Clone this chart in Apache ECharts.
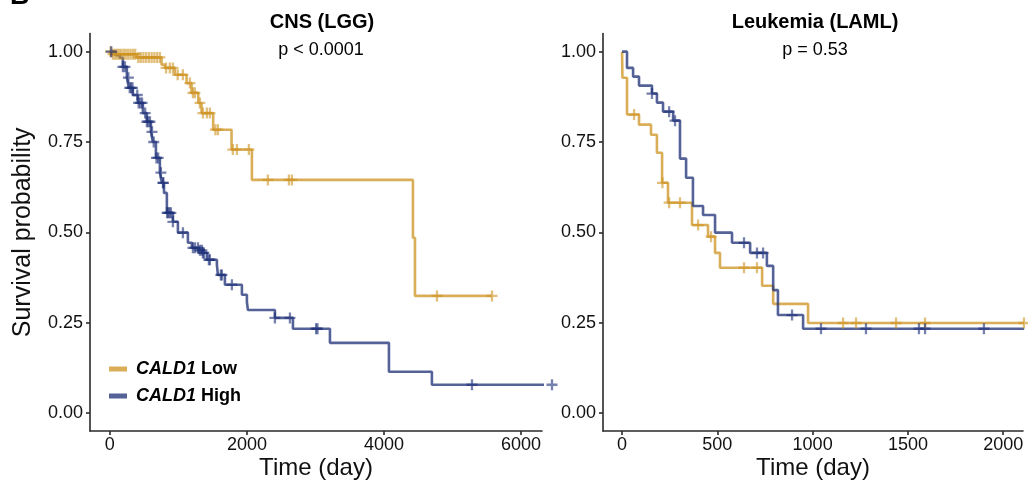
<!DOCTYPE html>
<html>
<head>
<meta charset="utf-8">
<script src="https://cdn.jsdelivr.net/npm/echarts@6/dist/echarts.min.js"></script>
<style>
  html, body { margin: 0; padding: 0; background: #fff; }
  #chart { width: 1028px; height: 481px; }
</style>
</head>
<body>
<div id="chart"></div>
<script>
// ---- CNS (LGG): Kaplan–Meier steps (event day, survival after the event) ----
const lggLowTime  = [0, 24, 390, 754, 803, 949, 1119, 1192, 1290, 1338, 1508, 1776, 2073, 4423, 4453, 5577];
const lggLowSurv  = [1, 0.993, 0.984, 0.964, 0.955, 0.936, 0.913, 0.886, 0.858, 0.830, 0.784, 0.729, 0.645, 0.485, 0.324, 0.324];
const lggLowCensor = [10, 45, 75, 105, 135, 165, 200, 230, 265, 300, 335, 370, 415, 450, 490, 530, 570, 610,
  650, 690, 730, 820, 875, 920, 990, 1065, 1168, 1212, 1240, 1314, 1358, 1416, 1460, 1540, 1577, 1795, 1854,
  2029, 2306, 2613, 2657, 4774, 5577];

const lggHighTime = [0, 90, 146, 190, 248, 277, 336, 409, 482, 540, 599, 628, 672, 730, 759, 790, 832, 920, 993,
  1139, 1197, 1300, 1358, 1416, 1562, 1577, 1679, 1927, 2000, 2015, 2409, 2672, 3212, 4073, 4700, 6453];
const lggHighSurv = [1, 0.99, 0.983, 0.958, 0.928, 0.90, 0.88, 0.858, 0.83, 0.806, 0.778, 0.75, 0.706, 0.665,
  0.637, 0.609, 0.554, 0.529, 0.499, 0.471, 0.457, 0.45, 0.443, 0.424, 0.41, 0.382, 0.355, 0.327, 0.307, 0.285,
  0.263, 0.233, 0.194, 0.114, 0.078, 0.078];
const lggHighCensor = [20, 190, 220, 270, 290, 310, 330, 400, 420, 445, 470, 515, 540, 560, 585, 615, 640, 680,
  705, 745, 775, 780, 835, 850, 870, 890, 920, 1066, 1212, 1241, 1285, 1314, 1343, 1358, 1372, 1445, 1460, 1620,
  1635, 1781, 2409, 2628, 3010, 3030, 5285, 6453];

// ---- Leukemia (LAML) ----
const lamlLowTime  = [0, 2, 26, 89, 152, 183, 210, 241, 367, 451, 488, 514, 735, 793, 976, 2109];
const lamlLowSurv  = [1, 0.928, 0.826, 0.798, 0.77, 0.72, 0.637, 0.582, 0.52, 0.488, 0.443, 0.402, 0.352, 0.302, 0.249, 0.249];
const lamlLowCensor = [63, 212, 247, 304, 399, 467, 640, 708, 1160, 1228, 1438, 1590, 2109];

const lamlHighTime = [0, 26, 58, 89, 157, 183, 215, 268, 304, 336, 372, 425, 488, 577, 672, 760, 793, 818, 950, 2110];
const lamlHighSurv = [1, 0.955, 0.931, 0.906, 0.884, 0.859, 0.834, 0.809, 0.704, 0.651, 0.573, 0.548, 0.499,
  0.471, 0.443, 0.407, 0.34, 0.271, 0.233, 0.233];
const lamlHighCensor = [157, 247, 278, 640, 708, 740, 892, 1044, 1280, 1558, 1590, 1899];

// axis ticks
const yTicks = [0, 0.25, 0.5, 0.75, 1];
const lggDayTicks = [0, 2000, 4000, 6000];
const lamlDayTicks = [0, 500, 1000, 1500, 2000];

const groupNames = ['CALD1 Low', 'CALD1 High'];
const lowColor = 'rgba(206,148,36,0.76)';
const highColor = 'rgba(30,48,120,0.76)';
const FONT = '"Liberation Sans", Arial, Helvetica, sans-serif';
// filled "+" used for censored observations
const PLUS = 'path://M4.75,0H7.25V4.75H12V7.25H7.25V12H4.75V7.25H0V4.75H4.75Z';

function stepData(times, surv) {
  return times.map((t, i) => [t, surv[i]]);
}
// survival value at a censoring day
function survAt(times, surv, day) {
  let s = surv[0];
  for (let i = 0; i < times.length; i++) {
    if (times[i] <= day) s = surv[i]; else break;
  }
  return s;
}
function censorData(times, surv, days) {
  return days.map(d => [d, survAt(times, surv, d)]);
}

function curve(name, idx, times, surv, color) {
  return {
    name: name, type: 'line', step: 'end', xAxisIndex: idx, yAxisIndex: idx,
    data: stepData(times, surv), showSymbol: false, symbol: 'none', clip: false,
    color: color, lineStyle: { color: color, width: 2.6 }, animation: false, z: 2
  };
}
function marks(name, idx, times, surv, days, color) {
  return {
    name: name + ' censored', type: 'scatter', xAxisIndex: idx, yAxisIndex: idx,
    data: censorData(times, surv, days), symbol: PLUS, symbolSize: 11, clip: false,
    itemStyle: { color: color }, animation: false, z: 3, silent: true
  };
}

const axisLineStyle = { color: '#2a2a2a', width: 1.6 };
function xAxis(idx, min, max, ticks, withName) {
  return {
    type: 'value', gridIndex: idx, min: min, max: max,
    axisLine: { show: true, onZero: false, lineStyle: axisLineStyle },
    axisTick: { show: true, length: 4, lineStyle: axisLineStyle, customValues: ticks },
    axisLabel: { customValues: ticks, fontSize: 18, color: '#111', margin: 5, fontFamily: FONT,
      formatter: v => String(v) },
    splitLine: { show: false },
    name: withName ? 'Time (day)' : '', nameLocation: 'middle', nameGap: 25, nameMoveOverlap: false,
    nameTextStyle: { fontSize: 24, color: '#111', fontFamily: FONT }
  };
}
function yAxis(idx, withName) {
  return {
    type: 'value', gridIndex: idx, min: -0.05, max: 1.05,
    axisLine: { show: true, onZero: false, lineStyle: axisLineStyle },
    axisTick: { show: true, length: 4, lineStyle: axisLineStyle, customValues: yTicks },
    axisLabel: { customValues: yTicks, fontSize: 18, color: '#111', margin: 7, fontFamily: FONT,
      formatter: v => v.toFixed(2) },
    splitLine: { show: false },
    name: withName ? 'Survival probability' : '', nameLocation: 'middle', nameGap: 54, nameRotate: 90,
    nameMoveOverlap: false,
    nameTextStyle: { fontSize: 25, color: '#111', fontFamily: FONT }
  };
}

const chart = echarts.init(document.getElementById('chart'), null, { renderer: 'canvas' });
chart.setOption({
  backgroundColor: '#fff',
  animation: false,
  textStyle: { fontFamily: FONT },
  title: [
    { text: 'B', left: 10, top: -17, padding: 0, textStyle: { fontSize: 27, fontWeight: 'bold', color: '#000', fontFamily: FONT } },
    { text: 'CNS (LGG)', left: 322, top: 12, padding: 0, textAlign: 'center',
      textStyle: { fontSize: 20, fontWeight: 'bold', color: '#000', fontFamily: FONT } },
    { text: 'p < 0.0001', left: 321, top: 41, padding: 0, textAlign: 'center',
      textStyle: { fontSize: 18, fontWeight: 'normal', color: '#000', fontFamily: FONT } },
    { text: 'Leukemia (LAML)', left: 815, top: 12, padding: 0, textAlign: 'center',
      textStyle: { fontSize: 20, fontWeight: 'bold', color: '#000', fontFamily: FONT } },
    { text: 'p = 0.53', left: 815, top: 41, padding: 0, textAlign: 'center',
      textStyle: { fontSize: 18, fontWeight: 'normal', color: '#000', fontFamily: FONT } }
  ],
  legend: {
    data: groupNames, orient: 'vertical', left: 109, top: 360, padding: 0,
    itemWidth: 18, itemHeight: 5, itemGap: 9, icon: 'rect',
    selectedMode: false,
    formatter: name => {
      const parts = name.split(' ');
      return '{g|' + parts[0] + '}{l| ' + parts[1] + '}';
    },
    textStyle: {
      fontSize: 18, color: '#000', fontFamily: FONT,
      rich: {
        g: { fontSize: 18, fontWeight: 'bold', fontStyle: 'italic', color: '#000', fontFamily: FONT, padding: [0, 0, 0, 4] },
        l: { fontSize: 18, fontWeight: 'bold', color: '#000', fontFamily: FONT }
      }
    }
  },
  grid: [
    { left: 90, top: 33.6, width: 452, height: 397.4, containLabel: false, outerBoundsMode: 'none' },
    { left: 603, top: 33.6, width: 420, height: 397.4, containLabel: false, outerBoundsMode: 'none' }
  ],
  xAxis: [
    xAxis(0, -290, 6307, lggDayTicks, true),
    xAxis(1, -100, 2104, lamlDayTicks, true)
  ],
  yAxis: [yAxis(0, true), yAxis(1, false)],
  series: [
    curve(groupNames[0], 0, lggLowTime, lggLowSurv, lowColor),
    marks(groupNames[0], 0, lggLowTime, lggLowSurv, lggLowCensor, lowColor),
    curve(groupNames[1], 0, lggHighTime, lggHighSurv, highColor),
    marks(groupNames[1], 0, lggHighTime, lggHighSurv, lggHighCensor, highColor),
    curve(groupNames[0], 1, lamlLowTime, lamlLowSurv, lowColor),
    marks(groupNames[0], 1, lamlLowTime, lamlLowSurv, lamlLowCensor, lowColor),
    curve(groupNames[1], 1, lamlHighTime, lamlHighSurv, highColor),
    marks(groupNames[1], 1, lamlHighTime, lamlHighSurv, lamlHighCensor, highColor)
  ]
});
</script>
</body>
</html>
